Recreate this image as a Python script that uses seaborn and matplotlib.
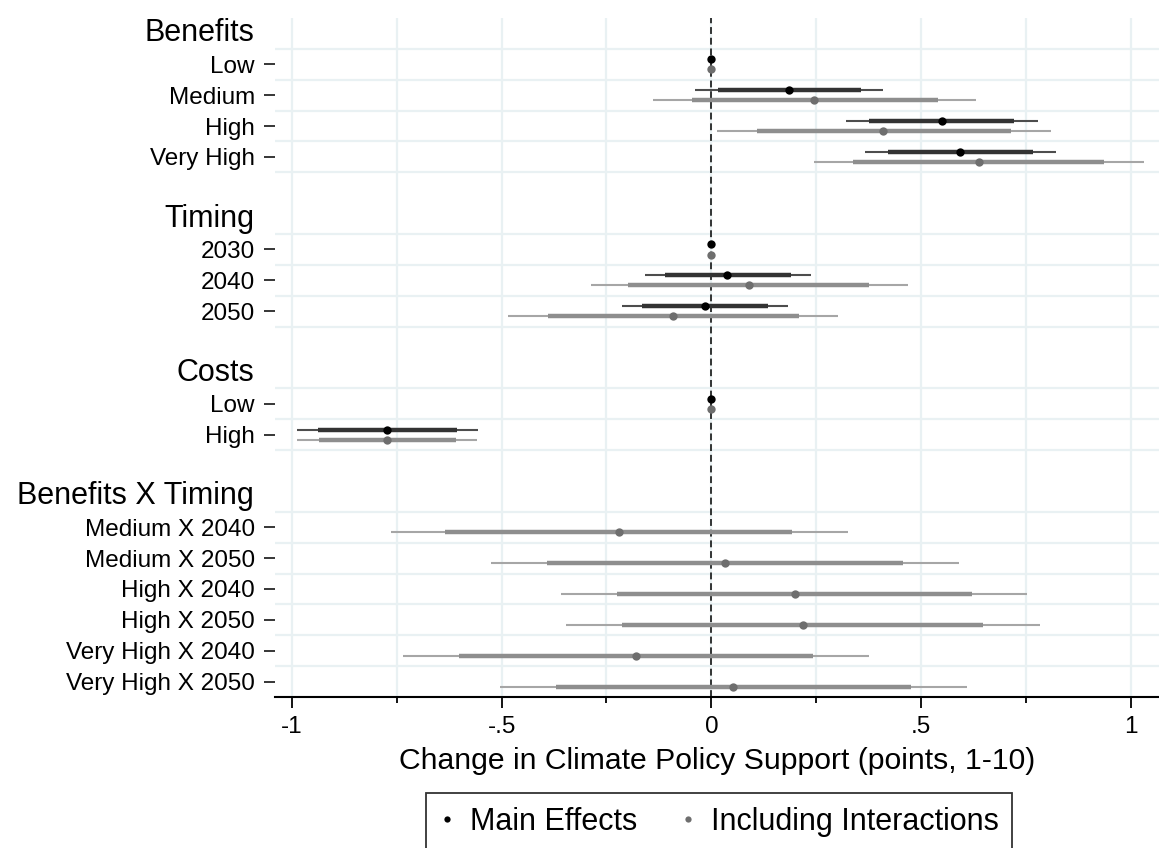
import numpy as np
import pandas as pd
import matplotlib
matplotlib.use("Agg")
import matplotlib.pyplot as plt
from matplotlib.lines import Line2D
import seaborn as sns

# ---------------- data ----------------
groups = ["Benefits", "Timing", "Costs", "Benefits X Timing"]
benefit_levels = ["Low", "Medium", "High", "Very High"]
timing_levels = ["2030", "2040", "2050"]
cost_levels = ["Low", "High"]
interaction_levels = ["Medium X 2040", "Medium X 2050", "High X 2040",
                      "High X 2050", "Very High X 2040", "Very High X 2050"]

# Main effects (no interaction terms)
main_benefits_est = [0.0, 0.186, 0.550, 0.594]
main_benefits_lo95 = [np.nan, -0.039, 0.320, 0.366]
main_benefits_hi95 = [np.nan, 0.410, 0.779, 0.823]
main_benefits_lo_in = [np.nan, 0.015, 0.376, 0.421]
main_benefits_hi_in = [np.nan, 0.357, 0.723, 0.767]

main_timing_est = [0.0, 0.038, -0.016]
main_timing_lo95 = [np.nan, -0.158, -0.214]
main_timing_hi95 = [np.nan, 0.238, 0.183]
main_timing_lo_in = [np.nan, -0.110, -0.166]
main_timing_hi_in = [np.nan, 0.190, 0.135]

main_costs_est = [0.0, -0.773]
main_costs_lo95 = [np.nan, -0.987]
main_costs_hi95 = [np.nan, -0.556]
main_costs_lo_in = [np.nan, -0.937]
main_costs_hi_in = [np.nan, -0.606]

# Model including interactions
int_benefits_est = [0.0, 0.246, 0.410, 0.638]
int_benefits_lo95 = [np.nan, -0.139, 0.014, 0.246]
int_benefits_hi95 = [np.nan, 0.632, 0.810, 1.031]
int_benefits_lo_in = [np.nan, -0.046, 0.108, 0.339]
int_benefits_hi_in = [np.nan, 0.541, 0.714, 0.937]

int_timing_est = [0.0, 0.089, -0.092]
int_timing_lo95 = [np.nan, -0.288, -0.484]
int_timing_hi95 = [np.nan, 0.469, 0.301]
int_timing_lo_in = [np.nan, -0.198, -0.390]
int_timing_hi_in = [np.nan, 0.377, 0.208]

int_costs_est = [0.0, -0.773]
int_costs_lo95 = [np.nan, -0.989]
int_costs_hi95 = [np.nan, -0.558]
int_costs_lo_in = [np.nan, -0.935]
int_costs_hi_in = [np.nan, -0.609]

int_bxt_est = [-0.221, 0.033, 0.199, 0.218, -0.180, 0.052]
int_bxt_lo95 = [-0.764, -0.525, -0.359, -0.346, -0.736, -0.503]
int_bxt_hi95 = [0.326, 0.590, 0.754, 0.783, 0.377, 0.610]
int_bxt_lo_in = [-0.636, -0.392, -0.225, -0.212, -0.602, -0.371]
int_bxt_hi_in = [0.193, 0.456, 0.622, 0.647, 0.243, 0.477]

x_ticks = [-1, -0.5, 0, 0.5, 1]
x_ticklabels = ["-1", "-.5", "0", ".5", "1"]
x_minor = [-0.75, -0.25, 0.25, 0.75]
x_label = "Change in Climate Policy Support (points, 1-10)"
series_names = ["Main Effects", "Including Interactions"]

# ---------------- layout of rows ----------------
group_levels = [benefit_levels, timing_levels, cost_levels, interaction_levels]
header_pos = []
row_labels = []
row_pos = []
grid_pos = []
pos = 0
for g, levels in zip(groups, group_levels):
    header_pos.append(pos)
    pos += 1
    start = pos
    for lev in levels:
        row_labels.append(lev)
        row_pos.append(pos)
        pos += 1
    grid_pos.extend(np.arange(start - 0.5, pos, 1.0))
    pos += 1  # gap

b_pos = row_pos[0:4]
t_pos = row_pos[4:7]
c_pos = row_pos[7:9]
i_pos = row_pos[9:15]

off = 0.165
main_df = pd.DataFrame({
    "y": np.array(b_pos + t_pos + c_pos, float) - off,
    "est": main_benefits_est + main_timing_est + main_costs_est,
    "lo95": main_benefits_lo95 + main_timing_lo95 + main_costs_lo95,
    "hi95": main_benefits_hi95 + main_timing_hi95 + main_costs_hi95,
    "lo_in": main_benefits_lo_in + main_timing_lo_in + main_costs_lo_in,
    "hi_in": main_benefits_hi_in + main_timing_hi_in + main_costs_hi_in,
})
int_df = pd.DataFrame({
    "y": np.array(b_pos + t_pos + c_pos + i_pos, float) + off,
    "est": int_benefits_est + int_timing_est + int_costs_est + int_bxt_est,
    "lo95": int_benefits_lo95 + int_timing_lo95 + int_costs_lo95 + int_bxt_lo95,
    "hi95": int_benefits_hi95 + int_timing_hi95 + int_costs_hi95 + int_bxt_hi95,
    "lo_in": int_benefits_lo_in + int_timing_lo_in + int_costs_lo_in + int_bxt_lo_in,
    "hi_in": int_benefits_hi_in + int_timing_hi_in + int_costs_hi_in + int_bxt_hi_in,
})

# ---------------- style ----------------
sns.set_style("white")
plt.rcParams["font.family"] = ["Liberation Sans", "DejaVu Sans"]
plt.rcParams["text.color"] = "black"
plt.rcParams["axes.labelcolor"] = "black"
plt.rcParams["xtick.color"] = "black"
plt.rcParams["ytick.color"] = "black"

fig = plt.figure(figsize=(11.59, 8.48), dpi=100)
ax = fig.add_axes([275 / 1159, 1 - 697 / 848, 1 - 275 / 1159, (697 - 18) / 848])

grid_col = "#E9F1F3"
for gx in x_ticks + x_minor:
    ax.axvline(gx, color=grid_col, lw=1.6, zorder=0)
for gy in grid_pos:
    ax.axhline(gy, color=grid_col, lw=1.6, zorder=0)

ax.axvline(0, color="black", lw=1.1, ls=(0, (4.5, 2.5)), zorder=1)

styles = [
    (main_df, "#4d4d4d", "#333333", "black"),
    (int_df, "#a6a6a6", "#8e8e8e", "#6e6e6e"),
]
for df, thin_c, thick_c, pt_c in styles:
    ax.hlines(df["y"], df["lo95"], df["hi95"], color=thin_c, lw=1.5, zorder=2)
    ax.hlines(df["y"], df["lo_in"], df["hi_in"], color=thick_c, lw=3.2, zorder=3)
    sns.scatterplot(data=df, x="est", y="y", color=pt_c, s=36, linewidth=0,
                    ax=ax, zorder=4, legend=False)

ax.set_xlim(-1.0405, 1.0676)
ax.set_ylim(21.5, -0.5)

ax.set_yticks(row_pos)
ax.set_yticklabels(row_labels)
ax.set_xticks(x_ticks)
ax.set_xticklabels(x_ticklabels)
ax.set_xticks(x_minor, minor=True)
ax.tick_params(axis="y", left=True, length=8, width=1.1, pad=6.5, labelsize=17.5,
               color="black", labelcolor="black")
ax.tick_params(axis="x", which="major", bottom=True, length=8, width=1.3, pad=6,
               labelsize=17.5, color="black", labelcolor="black")
ax.tick_params(axis="x", which="minor", bottom=True, length=4, width=1.3, color="black")
ax.set_xlabel(x_label, fontsize=21.7, labelpad=6, color="black")
ax.set_ylabel("")

for s in ["left", "top", "right"]:
    ax.spines[s].set_visible(False)
ax.spines["bottom"].set_color("black")
ax.spines["bottom"].set_linewidth(1.5)

for g, hp in zip(groups, header_pos):
    ax.text(-0.0238, hp, g, transform=ax.get_yaxis_transform(), ha="right",
            va="center", fontsize=22, color="black")

handles = [
    Line2D([], [], ls="none", marker="o", color="black", markersize=4.5, markeredgewidth=0),
    Line2D([], [], ls="none", marker="o", color="#6e6e6e", markersize=4.5, markeredgewidth=0),
]
leg = fig.legend(handles, series_names, loc="upper center", ncol=2,
                 bbox_to_anchor=(719 / 1159, 1 - 793 / 848), fontsize=22,
                 frameon=True, fancybox=False, edgecolor="black",
                 handlelength=0.5, handletextpad=0.5, columnspacing=1.4,
                 borderpad=0.45, borderaxespad=0, labelcolor="black")
leg.get_frame().set_linewidth(1.3)

fig.savefig("out.png", dpi=100)
